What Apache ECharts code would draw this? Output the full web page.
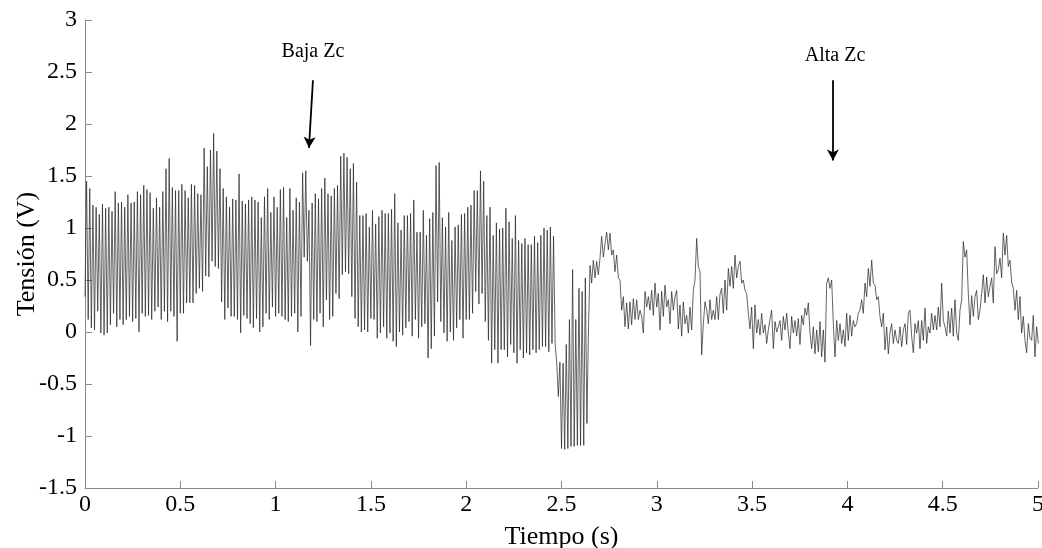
<!DOCTYPE html>
<html>
<head>
<meta charset="utf-8">
<script src="https://cdn.jsdelivr.net/npm/echarts/dist/echarts.min.js"></script>
<style>
html,body{margin:0;padding:0;background:#fff;}
#chart{width:1042px;height:548px;}
</style>
</head>
<body>
<div id="chart"></div>
<script>
// ---------------- DATA ----------------
// Part 1 (0 – 2.46 s): per-cycle maxima and minima of the 60 Hz waveform
const peaks = [
 1.45,1.38,1.22,1.20,1.13,1.23,1.19,1.20,1.16,1.35,1.24,1.25,1.20,1.32,1.24,1.25,1.35,1.32,1.41,1.37,
 1.34,1.19,1.29,1.20,1.35,1.57,1.67,1.39,1.36,1.36,1.42,1.36,1.29,1.42,1.41,1.33,1.32,1.77,1.59,
 1.75,1.91,1.74,1.57,1.38,1.30,1.20,1.28,1.27,1.52,1.26,1.23,1.27,1.30,1.27,1.25,1.10,1.30,1.38,1.15,
 1.30,1.20,1.37,1.39,1.10,1.38,1.17,1.29,1.25,1.53,1.55,1.17,1.24,1.33,1.28,1.38,1.48,1.33,1.31,1.38,
 1.41,1.69,1.72,1.68,1.57,1.62,1.44,1.12,1.12,1.14,1.01,1.17,1.04,1.11,1.17,1.14,1.14,1.18,1.33,1.05,
 0.98,1.12,1.12,1.14,1.27,0.96,0.96,1.17,0.93,1.09,1.15,1.60,1.63,1.10,1.01,1.15,0.88,1.01,1.03,
 1.13,1.14,1.20,1.22,1.36,1.36,1.55,1.45,1.12,1.20,0.93,1.05,0.99,1.00,1.19,1.06,0.90,1.12,0.88,0.85,
 0.90,0.84,0.84,0.92,0.86,0.93,1.00,0.98,1.01,0.92
];
const troughs = [
 0.34,0.12,0.04,0.02,0.20,-0.01,-0.03,-0.01,0.07,0.18,0.05,0.12,0.07,0.12,0.15,0.10,0.13,0.00,0.18,0.15,
 0.16,0.12,0.20,0.24,0.12,0.20,0.10,0.20,0.15,-0.09,0.18,0.18,0.28,0.28,0.28,0.37,0.42,0.39,0.54,
 0.53,0.68,0.63,0.61,0.29,0.12,0.23,0.15,0.15,0.12,-0.01,0.16,0.13,0.08,0.04,0.13,0.00,0.05,0.18,0.12,
 0.24,0.15,0.18,0.15,0.12,0.10,0.15,0.18,0.00,0.15,0.72,0.68,-0.13,0.12,0.10,0.18,0.05,0.31,0.12,0.15,
 0.37,0.32,0.55,0.58,0.56,0.34,0.13,0.05,0.00,0.02,0.00,0.13,0.12,-0.06,-0.01,0.05,-0.06,-0.01,-0.09,-0.14,
 0.00,-0.03,0.04,0.10,-0.04,0.12,-0.06,0.05,0.08,-0.25,-0.16,-0.04,0.29,0.10,-0.01,-0.09,0.00,-0.08,0.04,
 0.12,-0.06,0.12,0.12,0.18,0.39,0.27,0.37,0.10,-0.08,-0.30,-0.17,-0.30,-0.17,-0.17,-0.24,-0.12,-0.20,-0.30,-0.17,
 -0.25,-0.20,-0.22,-0.17,-0.20,-0.17,-0.14,-0.14,-0.19,-0.11
];
// transition (≈2.47 – 2.63 s), same half-cycle sampling
const transition = [
 -0.11,-0.30,-0.62,-0.29,-1.12,-0.30,-1.13,-0.12,-1.12,0.12,-1.10,0.60,-1.10,0.12,-1.09,0.42,-1.09,0.39,-1.09,0.52,-0.88
];
const halfCycle = 1/120;          // s between a maximum and the next minimum

// Part 2 (≈2.64 – 5 s): samples of the low-amplitude signal
const part2Start = 2.6408;
const part2Step = 0.008744;
const part2a = [
 -0.04,0.64,0.47,0.69,0.52,0.68,0.55,0.71,0.92,0.72,0.85,0.96,0.79,0.95,0.74,0.79,0.58,0.74,0.52,0.50,
 0.21,0.34,0.05,0.28,0.03,0.29,0.07,0.32,0.12,0.31,0.12
];
const part2b = [
 0.21,0.15,-0.01,0.39,0.24,0.34,0.21,0.40,0.16,0.47,0.24,0.37,0.02,0.39,0.15,0.45,0.24,0.31,0.08,0.39,
 0.21,0.34,0.40,0.03,0.26,-0.04,0.29,0.08,0.16,-0.01,0.24,0.02,0.40,0.50,0.90,0.63,0.58,-0.22,0.08,0.29,
 0.21,0.08,0.31,0.12,0.21,0.12,0.34,0.12,0.36,0.42,0.18,0.50,0.21,0.61,0.44,0.63,0.42,0.74,0.52,0.63,
 0.68,0.47,0.50,0.40,0.37,0.18,0.03,0.24,-0.16,0.26,-0.01,0.12,-0.03,0.18,-0.01,0.07,-0.11,0.02,0.12,0.21,
 -0.16,0.10,0.00,0.05
];
const part2c = [
 0.11,-0.08,0.15,0.02,0.18,-0.01,-0.16,0.15,-0.01,0.11,-0.04,0.13,-0.12,0.16,0.07,0.23,0.16,0.28,-0.01,-0.16,
 0.05,-0.21,0.02,-0.19,0.10,-0.24,0.02,-0.29,0.47,0.52,0.42,0.50,0.08,-0.24,0.11,-0.08,0.08,-0.11,0.02,-0.14,
 0.18,-0.08,0.16,-0.04,0.11,0.05,0.08,0.18,0.21,0.31,0.18,0.47,0.34,0.61,0.44,0.69,0.47,0.45,0.31,0.34,
 0.15,0.05,0.18,-0.17,0.05,-0.21,-0.01,0.08,-0.11,0.02,-0.08,-0.11,0.05,-0.14,0.02,0.08,-0.12,0.18
];
const part2d = [
 0.21,-0.04,-0.20,0.08,-0.01,0.11,-0.16,0.11,-0.08,0.23,-0.11,0.05,-0.01,0.18,0.02,0.16,0.02,0.24,0.05,0.47,
 0.11,0.05,-0.04,0.20,-0.01,0.23,-0.04,0.31,-0.01,-0.08,0.21,0.31,0.87,0.72,0.79,0.37,0.07,0.35,0.15,0.34,
 0.40,0.12,0.21,0.37,0.55,0.28,0.53,0.34,0.44,0.52,0.28,0.82,0.56,0.60,0.71,0.52,0.95,0.74,0.93,0.63,
 0.69,0.48,0.42,0.21,0.40,0.12,0.34,-0.01,0.15,-0.08,-0.20,0.08,-0.06,-0.08,0.16,-0.24,0.05,-0.11
];

// axes
const xTicks = {min: 0, max: 5, interval: 0.5};
const yTicks = {min: -1.5, max: 3, interval: 0.5};
const xName = 'Tiempo (s)';
const yName = 'Tensión (V)';

// annotations
const annotLabels = ['Baja Zc', 'Alta Zc'];
const annotTextPos = [[1.196, 2.69], [3.935, 2.66]];
const arrowStart = [[1.196, 2.42], [3.924, 2.42]];
const arrowEnd = [[1.175, 1.77], [3.924, 1.65]];

// ---------------- BUILD ----------------
const part1 = [];
for (let k = 0; k < peaks.length; k++) { part1.push(troughs[k], peaks[k]); }
const part1All = part1.concat(transition);
const signal = part1All.map((v, i) => [i * halfCycle, v]);
const part2 = part2a.concat(part2b, part2c, part2d);
part2.forEach((v, i) => signal.push([part2Start + i * part2Step, v]));

const serif = '"Liberation Serif","Times New Roman",serif';
const axisGray = '#8a8a8a';

const chart = echarts.init(document.getElementById('chart'), null, {renderer: 'canvas'});
chart.setOption({
  animation: false,
  backgroundColor: '#fff',
  grid: {left: 85, right: 4, top: 20, bottom: 60, containLabel: false, outerBoundsMode: 'none'},
  xAxis: {
    type: 'value', min: xTicks.min, max: xTicks.max, interval: xTicks.interval,
    name: xName, nameLocation: 'middle', nameGap: 36, nameMoveOverlap: false,
    nameTextStyle: {fontFamily: serif, fontSize: 26, color: '#000'},
    axisLine: {show: true, onZero: false, lineStyle: {color: axisGray, width: 1}},
    axisTick: {show: true, inside: true, length: 7, lineStyle: {color: axisGray}},
    axisLabel: {fontFamily: serif, fontSize: 24, color: '#000', margin: 5},
    splitLine: {show: false}
  },
  yAxis: {
    type: 'value', min: yTicks.min, max: yTicks.max, interval: yTicks.interval,
    name: yName, nameLocation: 'middle', nameGap: 45, nameMoveOverlap: false,
    nameTextStyle: {fontFamily: serif, fontSize: 26, color: '#000'},
    axisLine: {show: true, onZero: false, lineStyle: {color: axisGray, width: 1}},
    axisTick: {show: true, inside: true, length: 7, lineStyle: {color: axisGray}},
    axisLabel: {fontFamily: serif, fontSize: 24, color: '#000', margin: 8},
    splitLine: {show: false}
  },
  series: [
    {
      type: 'line', data: signal, showSymbol: false, symbol: 'none',
      lineStyle: {color: '#222', width: 0.7}, silent: true,
      markLine: {
        silent: true, symbol: ['none', 'arrow'], symbolSize: [9, 11],
        lineStyle: {color: '#000', width: 1.8, type: 'solid'},
        label: {show: false},
        data: arrowStart.map((s, i) => [{coord: s}, {coord: arrowEnd[i]}])
      }
    },
    {
      type: 'scatter', symbolSize: 0, silent: true,
      itemStyle: {opacity: 1},
      data: annotTextPos.map((p, i) => ({value: p, name: annotLabels[i]})),
      label: {show: true, position: 'inside', formatter: p => p.name,
              fontFamily: serif, fontSize: 20, color: '#000', opacity: 1}
    }
  ]
});
</script>
</body>
</html>
